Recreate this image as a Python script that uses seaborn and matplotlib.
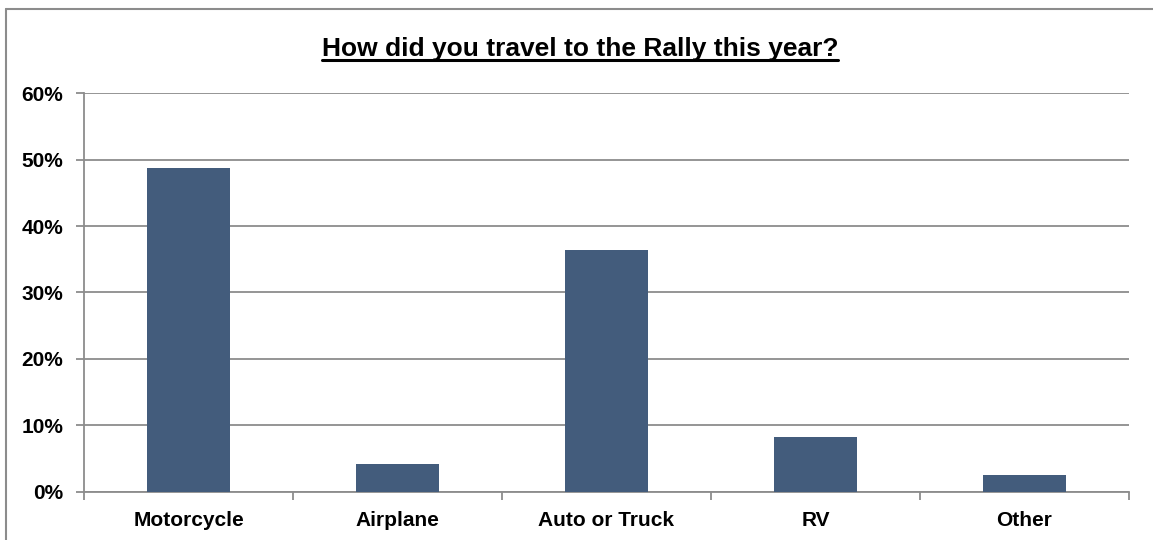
import matplotlib
matplotlib.use("Agg")
import matplotlib.pyplot as plt
from matplotlib.ticker import FixedLocator, PercentFormatter
from matplotlib.lines import Line2D
import seaborn as sns
import pandas as pd

categories = ["Motorcycle", "Airplane", "Auto or Truck", "RV", "Other"]
shares = [48.7, 4.1, 36.4, 8.2, 2.5]
y_ticks = [0, 10, 20, 30, 40, 50, 60]
title = "How did you travel to the Rally this year?"

sns.set_theme(style="white")
plt.rcParams["font.family"] = ["Liberation Sans", "DejaVu Sans"]

df = pd.DataFrame({"mode": categories, "share": shares})

fig = plt.figure(figsize=(11.53, 5.4), dpi=100)
ax = fig.add_axes([0.073, 0.0898, 0.906, 0.7372])

sns.barplot(data=df, x="mode", y="share", color="#435C7C", width=0.4,
            saturation=1, ax=ax, zorder=3, edgecolor="none")

ax.set_ylim(0, 60)
ax.set_xlim(-0.5, len(categories) - 0.5)
ax.yaxis.set_major_locator(FixedLocator(y_ticks))
ax.yaxis.set_major_formatter(PercentFormatter(decimals=0))
ax.grid(axis="y", color="#8c8c8c", linewidth=1.3, zorder=0)
ax.set_xlabel("")
ax.set_ylabel("")

for side in ["top", "right"]:
    ax.spines[side].set_visible(False)
for side in ["left", "bottom"]:
    ax.spines[side].set_color("#8c8c8c")
    ax.spines[side].set_linewidth(1.3)

# y ticks stick out to the left; x ticks mark category boundaries
ax.tick_params(axis="y", which="major", left=True, length=6, width=1.3,
               color="#8c8c8c", labelsize=15, pad=9)
ax.tick_params(axis="x", which="major", bottom=False, labelsize=15, pad=8)
ax.xaxis.set_minor_locator(FixedLocator([i - 0.5 for i in range(len(categories) + 1)]))
ax.tick_params(axis="x", which="minor", bottom=True, length=6, width=1.3,
               color="#8c8c8c")
for lab in ax.get_xticklabels() + ax.get_yticklabels():
    lab.set_fontweight("bold")
    lab.set_color("black")

# underlined bold title
t = fig.text(0.503, 0.91, title, ha="center", va="center",
             fontsize=19, fontweight="bold", color="black")
fig.canvas.draw()
bb = t.get_window_extent().transformed(fig.transFigure.inverted())
fig.add_artist(Line2D([bb.x0, bb.x1], [bb.y0 + 0.002, bb.y0 + 0.002],
                      transform=fig.transFigure, color="black", linewidth=2.2))

# outer frame: only its left and top edges fall inside the image
frame_kw = dict(transform=fig.transFigure, color="#8c8c8c", linewidth=1.5)
fig.add_artist(Line2D([0.0052, 0.0052], [0.0, 0.984], **frame_kw))
fig.add_artist(Line2D([0.0052, 1.0], [0.984, 0.984], **frame_kw))

fig.savefig("out.png", dpi=100)
